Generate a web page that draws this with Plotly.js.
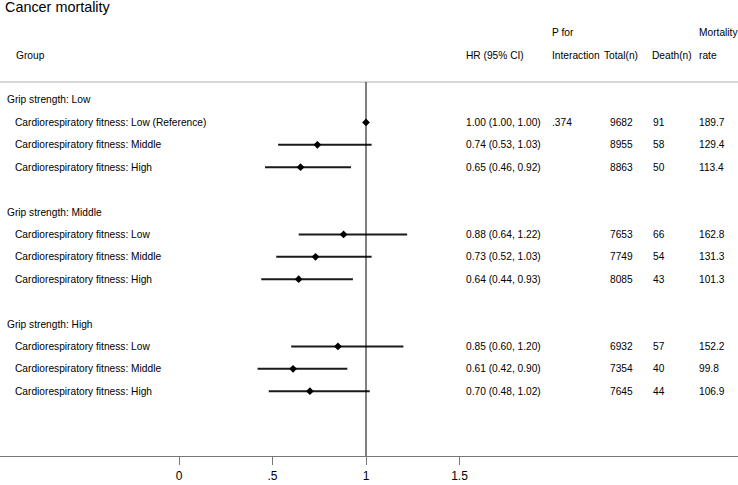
<!DOCTYPE html>
<html>
<head>
<meta charset="utf-8">
<script src="https://cdn.plot.ly/plotly-3.0.1.min.js"></script>
<style>html,body{margin:0;padding:0;background:#fff;}#chart{width:738px;height:485px;}</style>
</head>
<body>
<div id="chart"></div>
<script>
// ---- data ----
const groupLabels = ["Grip strength: Low", "Grip strength: Middle", "Grip strength: High"];
const rowLabels = [
  "Cardiorespiratory fitness: Low (Reference)", "Cardiorespiratory fitness: Middle", "Cardiorespiratory fitness: High",
  "Cardiorespiratory fitness: Low", "Cardiorespiratory fitness: Middle", "Cardiorespiratory fitness: High",
  "Cardiorespiratory fitness: Low", "Cardiorespiratory fitness: Middle", "Cardiorespiratory fitness: High"
];
const rowGroup = [0, 0, 0, 1, 1, 1, 2, 2, 2];
const hr    = [1.00, 0.74, 0.65, 0.88, 0.73, 0.64, 0.85, 0.61, 0.70];
const lower = [1.00, 0.53, 0.46, 0.64, 0.52, 0.44, 0.60, 0.42, 0.48];
const upper = [1.00, 1.03, 0.92, 1.22, 1.03, 0.93, 1.20, 0.90, 1.02];
const pInteraction = [".374", "", "", "", "", "", "", "", ""];
const totalN = [9682, 8955, 8863, 7653, 7749, 8085, 6932, 7354, 7645];
const deathN = [91, 58, 50, 66, 54, 43, 57, 40, 44];
const mortalityRate = ["189.7", "129.4", "113.4", "162.8", "131.3", "101.3", "152.2", "99.8", "106.9"];
const xTickVals = [0, 0.5, 1, 1.5];
const xTickText = ["0", ".5", "1", "1.5"];
const refValue = 1;

// ---- layout helpers ----
const W = 738;
const FONT = "Liberation Sans, Arial, sans-serif";
const fs = 10.2;
// row slot: group header at g*5, rows at g*5+1+k
const withinIdx = rowGroup.map((g, i) => i - rowGroup.indexOf(g));
const rowSlot = rowGroup.map((g, i) => g * 5 + 1 + withinIdx[i]);
const headerSlot = groupLabels.map((_, g) => g * 5);
const ySlotTop = -4.464, ySlotBottom = 15.893;
const hlineSlot = -0.8;

const px = v => (v - 2) / W;
const cols = { hr: px(466), p: px(552), total: px(610), death: px(653), rate: px(698.5) };

const annotations = [];
function txt(x, y, text, size, opts) {
  annotations.push(Object.assign({
    x: x, y: y, xref: "paper", yref: "y", text: text, showarrow: false,
    xanchor: "left", yanchor: "middle", font: { family: FONT, size: size || fs, color: "#000" }
  }, opts || {}));
}
// headers
txt(px(16), -2, "Group");
txt(cols.hr, -2, "HR (95% CI)");
txt(cols.p, -3, "P for");
txt(cols.p, -2, "Interaction");
txt(px(604), -2, "Total(n)");
txt(px(652), -2, "Death(n)");
txt(cols.rate, -3, "Mortality");
txt(cols.rate, -2, "rate");
groupLabels.forEach((g, i) => txt(px(7), headerSlot[i], g));
rowLabels.forEach((r, i) => {
  const y = rowSlot[i];
  txt(px(15), y, r);
  txt(cols.hr, y, hr[i].toFixed(2) + " (" + lower[i].toFixed(2) + ", " + upper[i].toFixed(2) + ")");
  if (pInteraction[i]) txt(cols.p, y, pInteraction[i]);
  txt(cols.total, y, String(totalN[i]));
  txt(cols.death, y, String(deathN[i]));
  txt(cols.rate, y, mortalityRate[i]);
});

const traces = [{
  type: "scatter", mode: "markers",
  x: hr, y: rowSlot,
  error_x: {
    type: "data", symmetric: false,
    array: hr.map((v, i) => upper[i] - v),
    arrayminus: hr.map((v, i) => v - lower[i]),
    width: 0, thickness: 2, color: "#1a1a1a"
  },
  marker: { symbol: "diamond", size: 6, color: "#000" },
  hoverinfo: "skip", cliponaxis: false
}];

const layout = {
  width: 738, height: 485,
  margin: { l: 0, r: 0, t: 0, b: 29, pad: 0 },
  paper_bgcolor: "#fff", plot_bgcolor: "#fff",
  showlegend: false,
  title: { text: "Cancer mortality", x: 5 / W, xanchor: "left", y: 1 - 7 / 485, yanchor: "middle", yref: "container",
           font: { family: FONT, size: 14.4, color: "#000" } },
  xaxis: {
    range: [(0 - 179) / 187, (738 - 179) / 187],
    tickvals: xTickVals, ticktext: xTickText,
    showgrid: false, zeroline: false,
    showline: true, linecolor: "#777", linewidth: 1,
    ticks: "outside", ticklen: 8, tickcolor: "#777", tickwidth: 1,
    ticklabelstandoff: 1,
    tickfont: { family: FONT, size: 12, color: "#000" },
    fixedrange: true
  },
  yaxis: {
    range: [ySlotBottom, ySlotTop],
    visible: false, showgrid: false, zeroline: false, fixedrange: true
  },
  shapes: [
    { type: "line", xref: "paper", yref: "y", x0: 0, x1: 1, y0: hlineSlot, y1: hlineSlot,
      line: { color: "#c8c8c8", width: 1.5 } },
    { type: "line", xref: "x", yref: "y", x0: refValue, x1: refValue, y0: hlineSlot, y1: ySlotBottom,
      line: { color: "#000", width: 1 } }
  ],
  annotations: annotations
};

Plotly.newPlot("chart", traces, layout, { staticPlot: true, displayModeBar: false });
</script>
</body>
</html>
